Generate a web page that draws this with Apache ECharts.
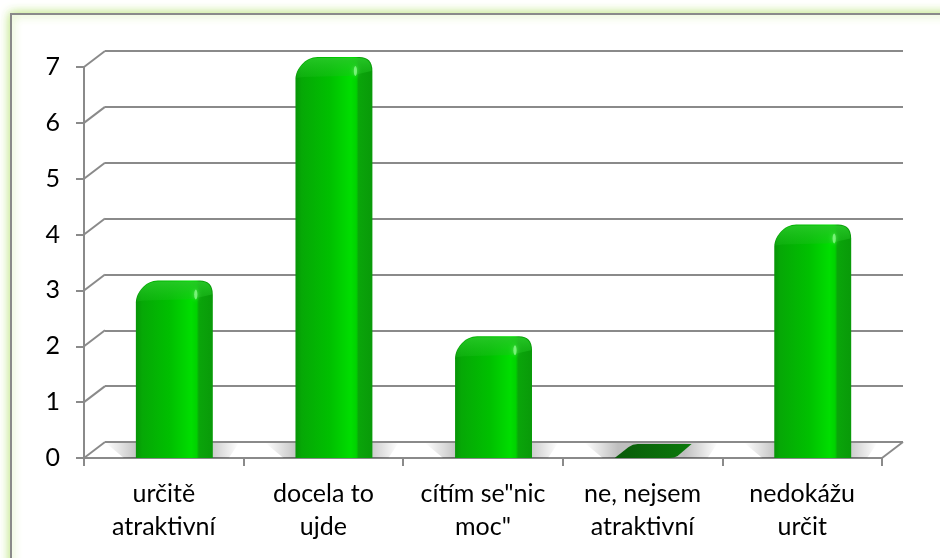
<!DOCTYPE html>
<html>
<head>
<meta charset="utf-8">
<script src="https://cdn.jsdelivr.net/npm/echarts@6/dist/echarts.min.js"></script>
<style>
html,body{margin:0;padding:0;background:#fff;}
#chart{width:940px;height:558px;}
</style>
</head>
<body>
<div id="chart"></div>
<script>
const categories = ['určitě\natraktivní', 'docela to\nujde', 'cítím se"nic\nmoc"', 'ne, nejsem\natraktivní', 'nedokážu\nurčit'];
const values = [3, 7, 2, 0, 4];
const yTicks = [0, 1, 2, 3, 4, 5, 6, 7];

const FONT = 'Lato, sans-serif';
const GRID_COLOR = '#8a8a8a';
const DX = 21, DY = -16;

const chart = echarts.init(document.getElementById('chart'));

function renderBar(params, api) {
  const idx = api.value(0), v = api.value(1);
  const base = api.coord([idx, 0]);
  const top = api.coord([idx, v]);
  const catW = api.size([1, 0])[0];
  const x0 = base[0] - catW * 0.175;
  const x1 = base[0] + catW * 0.307;
  const yf = base[1], yv = top[1];
  const children = [];
  children.push({
    type: 'polygon',
    shape: { points: [[x0 - 30, yf - 15], [x1 + 26, yf - 15], [x1 + 16, yf], [x0 - 12, yf]] },
    style: {
      fill: new echarts.graphic.LinearGradient(0, 0, 1, 0, [
        { offset: 0, color: 'rgba(0,0,0,0)' },
        { offset: 0.25, color: 'rgba(0,0,0,0.25)' },
        { offset: 0.75, color: 'rgba(0,0,0,0.25)' },
        { offset: 1, color: 'rgba(0,0,0,0)' }
      ])
    },
    silent: true
  });
  if (v <= 0) {
    children.push({
      type: 'path',
      shape: { pathData: `M${x0},${yf} L${x0 + 14},${yf - 11} Q${x0 + 18},${yf - 14} ${x0 + 23},${yf - 14} L${x1},${yf - 14} L${x1 - 14},${yf - 2} Q${x1 - 17},${yf} ${x1 - 22},${yf} Z` },
      style: {
        fill: new echarts.graphic.LinearGradient(0, 0, 1, 0, [
          { offset: 0, color: '#0a5a0a' },
          { offset: 1, color: '#0b7a0b' }
        ])
      }
    });
    return { type: 'group', children };
  }
  const body = `M${x0},${yf} L${x0},${yv + 12} C${x0},${yv + 2} ${x0 + 10},${yv - 10} ${x0 + 22},${yv - 10} L${x1 - 13},${yv - 10} Q${x1},${yv - 10} ${x1},${yv + 4} L${x1},${yf} Z`;
  children.push({
    type: 'path',
    shape: { pathData: body },
    style: {
      fill: new echarts.graphic.LinearGradient(0, 0, 1, 0, [
        { offset: 0, color: '#079407' },
        { offset: 0.08, color: '#06a806' },
        { offset: 0.45, color: '#00c000' },
        { offset: 0.72, color: '#00de00' },
        { offset: 0.79, color: '#00d200' },
        { offset: 0.82, color: '#0aa50a' },
        { offset: 1, color: '#099a09' }
      ])
    }
  });
  const topPath = `M${x0 + 1},${yv + 11} C${x0 + 1},${yv + 2} ${x0 + 10},${yv - 9} ${x0 + 22},${yv - 9} L${x1 - 13},${yv - 9} Q${x1 - 1},${yv - 9} ${x1 - 1},${yv + 4} L${x1 - 14},${yv + 7} Q${x1 - 20},${yv + 9} ${x1 - 30},${yv + 9} L${x0 + 8},${yv + 10} Z`;
  children.push({
    type: 'path',
    shape: { pathData: topPath },
    style: {
      fill: new echarts.graphic.LinearGradient(0, 0, 0, 1, [
        { offset: 0, color: 'rgba(40,200,40,0.9)' },
        { offset: 1, color: 'rgba(30,190,30,0.3)' }
      ])
    }
  });
  children.push({
    type: 'ellipse',
    shape: { cx: x1 - 17, cy: yv + 4, rx: 1.6, ry: 5 },
    style: { fill: 'rgba(150,255,150,0.7)', shadowBlur: 4, shadowColor: 'rgba(150,255,150,0.8)' }
  });
  return { type: 'group', children };
}

function renderConnector(params, api) {
  const v = api.value(1);
  const p = api.coord([0, v]);
  const cs = params.coordSys;
  const x = cs.x, y = p[1];
  const children = [{
    type: 'line',
    shape: { x1: x, y1: y, x2: x + DX, y2: y + DY },
    style: { stroke: GRID_COLOR, lineWidth: 2 }
  }];
  if (v === 0) {
    const xr = cs.x + cs.width;
    children.push({
      type: 'line',
      shape: { x1: xr, y1: y, x2: xr + DX, y2: y + DY },
      style: { stroke: GRID_COLOR, lineWidth: 2 }
    });
  }
  return { type: 'group', children, silent: true };
}

const option = {
  animation: false,
  backgroundColor: '#fff',
  graphic: [{
    type: 'rect',
    shape: { x: 11, y: 14, width: 960, height: 600 },
    style: { fill: '#fff', stroke: '#8a8a8a', lineWidth: 2, shadowBlur: 10, shadowColor: 'rgba(175,225,100,0.9)' },
    z: -10, silent: true
  }],
  grid: [
    { left: 84, right: 58, top: 67, bottom: 100 },
    { left: 84 + DX, right: 58 - DX, top: 67 + DY, bottom: 100 - DY }
  ],
  xAxis: [
    {
      type: 'category', gridIndex: 0, data: categories,
      axisLine: { lineStyle: { color: GRID_COLOR, width: 2 } },
      axisTick: { show: true, alignWithLabel: false, length: 8, lineStyle: { color: GRID_COLOR, width: 2 } },
      axisLabel: { color: '#000', fontFamily: FONT, fontSize: 25, lineHeight: 33, margin: 19, interval: 0 }
    },
    {
      type: 'category', gridIndex: 1, data: categories, show: false
    }
  ],
  yAxis: [
    {
      type: 'value', gridIndex: 0, min: 0, max: 7, interval: 1,
      axisLine: { show: true, lineStyle: { color: GRID_COLOR, width: 2 } },
      axisTick: { show: true, length: 8, lineStyle: { color: GRID_COLOR, width: 2 } },
      axisLabel: { color: '#000', fontFamily: FONT, fontSize: 25, margin: 24 },
      splitLine: { show: false }
    },
    {
      type: 'value', gridIndex: 1, min: 0, max: 7, interval: 1,
      axisLine: { show: false }, axisTick: { show: false }, axisLabel: { show: false },
      splitLine: { show: true, lineStyle: { color: GRID_COLOR, width: 2 } }
    }
  ],
  series: [
    {
      type: 'custom', xAxisIndex: 0, yAxisIndex: 0,
      renderItem: renderConnector,
      data: yTicks.map(v => [0, v]),
      z: 1
    },
    {
      type: 'custom', xAxisIndex: 0, yAxisIndex: 0,
      renderItem: renderBar,
      data: values.map((v, i) => [i, v]),
      z: 5
    }
  ]
};
chart.setOption(option);
</script>
</body>
</html>
